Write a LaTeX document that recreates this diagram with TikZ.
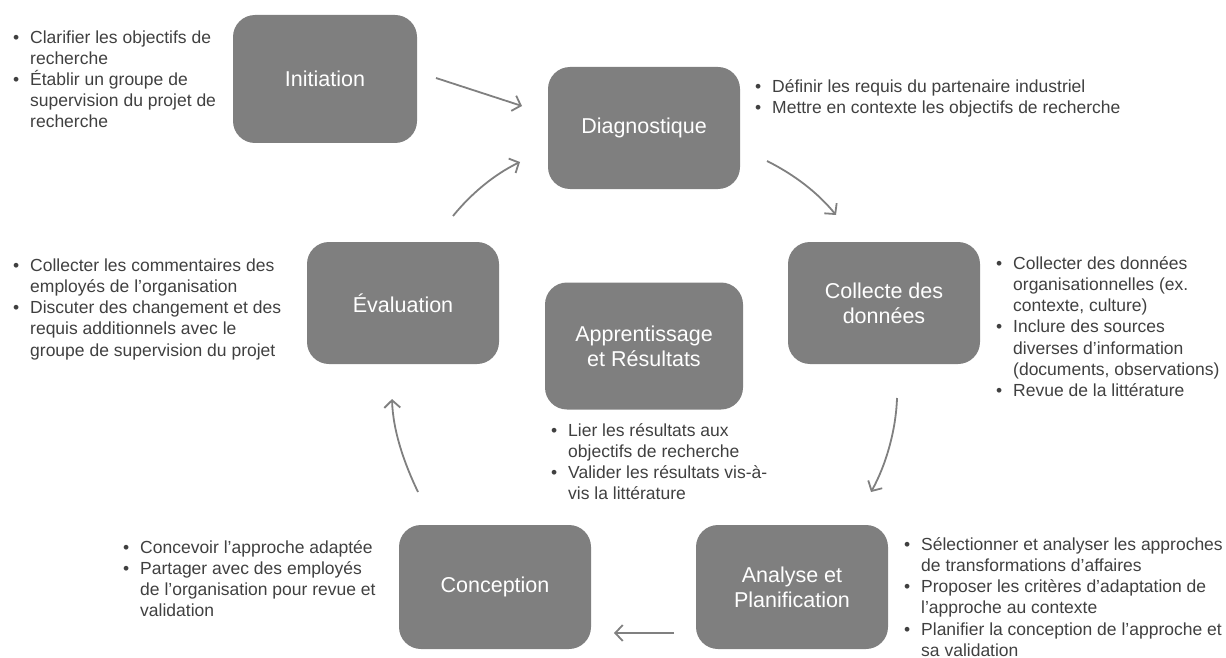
\documentclass[tikz,border=0pt]{standalone}
\usepackage{fontspec}
\setmainfont{Liberation Sans}
\usetikzlibrary{arrows.meta}
\definecolor{boxfill}{HTML}{7F7F7F}
\definecolor{notetext}{HTML}{404040}
\definecolor{arrowc}{HTML}{808080}
% bullet line and continuation line of a note
\newcommand{\bl}{\rule{0pt}{16pt}\makebox[17pt][l]{•}}
\newcommand{\ct}{\rule{0pt}{16pt}\hspace*{17pt}}
\begin{document}
\begin{tikzpicture}[x=1pt,y=-1pt,
  phase/.style={fill=boxfill, rounded corners=22pt, text=white, align=center,
    font=\fontsize{21.5}{25}\selectfont, minimum width=192pt, minimum height=122pt, inner sep=0pt},
  note/.style={anchor=north west, align=left, inner sep=0pt, text=notetext,
    font=\fontsize{17.5}{21.2}\selectfont},
  flow/.style={draw=arrowc, line width=1.8pt, -{Straight Barb[length=7.5pt,width=16pt]}}]
\useasboundingbox (0,0) rectangle (1226,658);

% phases
\node[phase, minimum width=184pt, minimum height=128pt] (init) at (325,79) {Initiation};
\node[phase] (diag) at (644,128) {Diagnostique};
\node[phase] (coll) at (884,303) {Collecte des\\données};
\node[phase, minimum width=198pt, minimum height=127pt] (appr) at (644,346) {Apprentissage\\et Résultats};
\node[phase] (eval) at (403,303) {Évaluation};
\node[phase, minimum height=124pt] (conc) at (495,587) {Conception};
\node[phase, minimum height=124pt] (anal) at (792,587) {Analyse et\\Planification};

% notes
\node[note] (ninit) at (13,27) {\bl Clarifier les objectifs de\\ \ct recherche\\ \bl Établir un groupe de\\ \ct supervision du projet de\\ \ct recherche};
\node[note] (ndiag) at (755,76) {\bl Définir les requis du partenaire industriel\\ \bl Mettre en contexte les objectifs de recherche};
\node[note] (ncoll) at (996,253) {\bl Collecter des données\\ \ct organisationnelles (ex.\\ \ct contexte, culture)\\ \bl Inclure des sources\\ \ct diverses d’information\\ \ct (documents, observations)\\ \bl Revue de la littérature};
\node[note] (neval) at (13,255) {\bl Collecter les commentaires des\\ \ct employés de l’organisation\\ \bl Discuter des changement et des\\ \ct requis additionnels avec le\\ \ct groupe de supervision du projet};
\node[note] (nappr) at (551,420) {\bl Lier les résultats aux\\ \ct objectifs de recherche\\ \bl Valider les résultats vis-à-\\ \ct vis la littérature};
\node[note] (nconc) at (123,537) {\bl Concevoir l’approche adaptée\\ \bl Partager avec des employés\\ \ct de l’organisation pour revue et\\ \ct validation};
\node[note] (nanal) at (904,534) {\bl Sélectionner et analyser les approches\\ \ct de transformations d’affaires\\ \bl Proposer les critères d’adaptation de\\ \ct l’approche au contexte\\ \bl Planifier la conception de l’approche et\\ \ct sa validation};

% cycle arrows
\coordinate (a1s) at (436,78);  \coordinate (a1e) at (522,106);
\coordinate (a2s) at (767,161); \coordinate (a2e) at (836,215);
\coordinate (a3s) at (897,398); \coordinate (a3e) at (871,492);
\coordinate (a4s) at (674,633); \coordinate (a4e) at (614,633);
\coordinate (a5s) at (418,492); \coordinate (a5e) at (392,399);
\coordinate (a6s) at (453,216); \coordinate (a6e) at (520,162);
\draw[flow] (a1s) -- (a1e);
\draw[flow] (a2s) .. controls (795,175) and (818,193) .. (a2e);
\draw[flow] (a3s) .. controls (896,430) and (886,465) .. (a3e);
\draw[flow] (a4s) -- (a4e);
\draw[flow] (a5s) .. controls (405,465) and (393,432) .. (a5e);
\draw[flow] (a6s) .. controls (470,195) and (493,175) .. (a6e);
\end{tikzpicture}
\end{document}
